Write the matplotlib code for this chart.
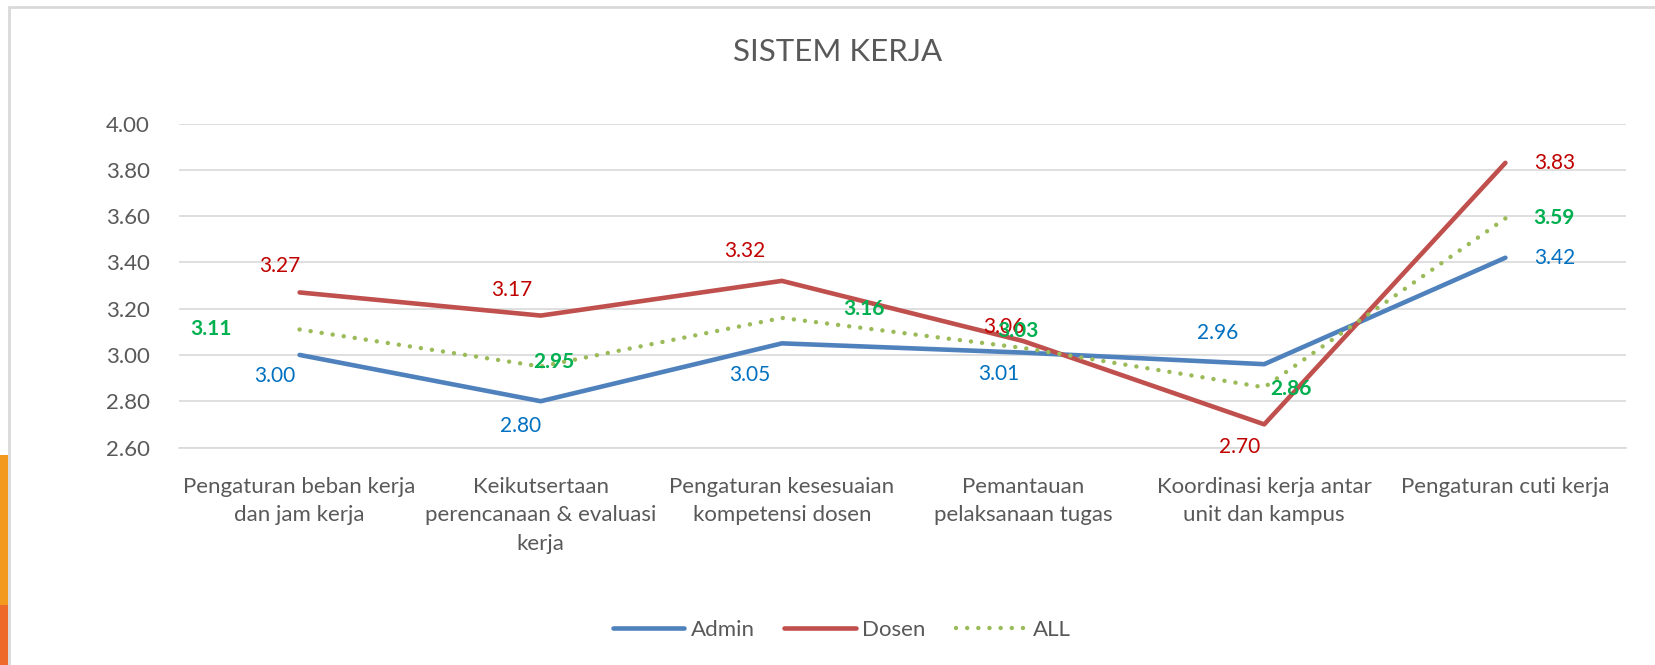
import matplotlib.pyplot as plt
from matplotlib.patches import Rectangle

plt.rcParams['font.family'] = ['Lato', 'DejaVu Sans']

# data
categories = ['Pengaturan beban kerja\ndan jam kerja',
              'Keikutsertaan\nperencanaan & evaluasi\nkerja',
              'Pengaturan kesesuaian\nkompetensi dosen',
              'Pemantauan\npelaksanaan tugas',
              'Koordinasi kerja antar\nunit dan kampus',
              'Pengaturan cuti kerja']
admin = [3.00, 2.80, 3.05, 3.01, 2.96, 3.42]
dosen = [3.27, 3.17, 3.32, 3.06, 2.70, 3.83]
all_ = [3.11, 2.95, 3.16, 3.03, 2.86, 3.59]
y_ticks = [2.6, 2.8, 3.0, 3.2, 3.4, 3.6, 3.8, 4.0]

# label offsets in pixels (dx, dy), dy up
admin_off = [(-25, -21), (-20, -25), (-32, -32), (-24, -21), (-47, 31), (49, 0)]
dosen_off = [(-20, 26), (-29, 26), (-37, 30), (-19, 14), (-25, -23), (49, 0)]
all_off = [(-89, 0), (13, 4), (82, 9), (-5, 17), (27, -2), (49, 0)]

W, H = 1655, 665
fig = plt.figure(figsize=(W / 100, H / 100), dpi=100)
ax = fig.add_axes([179 / W, 1 - 447.5 / H, (1626 - 179) / W, (447.5 - 123.5) / H])

x = list(range(len(categories)))
grey = '#595959'
ax.plot(x, admin, color='#4F81BD', lw=3.3, solid_capstyle='round', label='Admin', zorder=3)
ax.plot(x, dosen, color='#C0504D', lw=3.3, solid_capstyle='round', label='Dosen', zorder=3)
ax.plot(x, all_, color='#9BBB59', lw=3.2, linestyle=(0, (0.01, 2.5)),
        dash_capstyle='round', label='ALL', zorder=4)

for vals, offs, col, fw in [(admin, admin_off, '#0070C0', 'normal'),
                            (dosen, dosen_off, '#C00000', 'normal'),
                            (all_, all_off, '#00B050', 'bold')]:
    for i, v in enumerate(vals):
        ax.annotate(f'{v:.2f}', (i, v), xytext=offs[i], textcoords='offset pixels',
                    ha='center', va='center', color=col, fontsize=15, fontweight=fw, zorder=5)

ax.set_xlim(-0.5, len(categories) - 0.5)
ax.set_ylim(2.6, 4.0)
ax.set_yticks(y_ticks)
ax.set_yticklabels([f'{t:.2f}' for t in y_ticks])
ax.set_xticks(x)
ax.set_xticklabels(categories, linespacing=1.55)
ax.tick_params(axis='y', length=0, pad=21, labelsize=16, labelcolor=grey)
ax.tick_params(axis='x', length=0, pad=21, labelsize=16, labelcolor=grey)
ax.grid(axis='y', color='#D9D9D9', lw=1.2)
ax.set_axisbelow(True)
for s in ['top', 'right', 'left']:
    ax.spines[s].set_visible(False)
ax.spines['bottom'].set_color('#D9D9D9')
ax.spines['bottom'].set_linewidth(1.2)

fig.text(837.5 / W, 1 - 52 / H, 'SISTEM KERJA', ha='center', va='center',
         fontsize=22.5, color=grey)

leg = fig.legend(loc='center', bbox_to_anchor=(842 / W, 1 - 630 / H), ncol=3,
                 frameon=False, fontsize=16, handlelength=3.2, handletextpad=0.3,
                 columnspacing=1.35)
for t in leg.get_texts():
    t.set_color(grey)

# chart frame and background decoration
fig.patches.append(Rectangle((9 / W, -0.1), 1.2, 1 - 7 / H + 0.1, transform=fig.transFigure,
                             fill=False, edgecolor='#D9D9D9', lw=2, zorder=0))
fig.patches.append(Rectangle((0, 0), 8 / W, 210 / H, transform=fig.transFigure,
                             facecolor='#F39A1E', edgecolor='none', zorder=0))
fig.patches.append(Rectangle((0, 0), 8 / W, 60 / H, transform=fig.transFigure,
                             facecolor='#EE6A2A', edgecolor='none', zorder=0))

fig.savefig('out.png', dpi=100)
